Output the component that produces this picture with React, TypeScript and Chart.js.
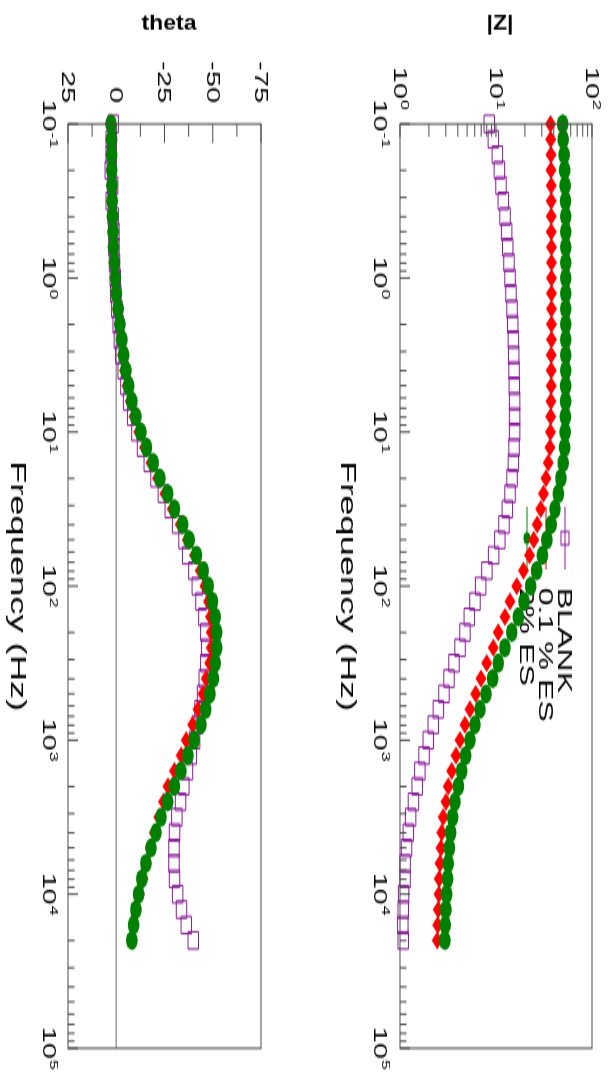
import React, { useEffect, useRef } from 'react';
import { Chart, registerables } from 'chart.js';

Chart.register(...registerables);

// Page is portrait; the figure is laid out landscape and turned a quarter turn clockwise.
const FONT = '"Liberation Sans", Arial, sans-serif';
const PAGE_W = 613;
const PAGE_H = 1078;
const CANVAS_W = 653;
const STRETCH = PAGE_H / CANVAS_W;
const TOP_H = 300;
const BOTTOM_H = PAGE_W - TOP_H;
const AXIS_COLOR = '#4a4a4a';

const frequencyHz = [
  0.1, 0.1259, 0.1585, 0.1995, 0.2512, 0.3162, 0.3981, 0.5012, 0.631, 0.7943,
  1, 1.259, 1.585, 1.995, 2.512, 3.162, 3.981, 5.012, 6.31, 7.943,
  10, 12.59, 15.85, 19.95, 25.12, 31.62, 39.81, 50.12, 63.1, 79.43,
  100, 125.9, 158.5, 199.5, 251.2, 316.2, 398.1, 501.2, 631, 794.3,
  1000, 1259, 1585, 1995, 2512, 3162, 3981, 5012, 6310, 7943,
  10000, 12590, 15850, 19950,
];

const seriesLabels = ['BLANK', '0.1 % ES', '2% ES'];
const seriesColors = ['#8b1a9b', '#ff0000', '#008000'];

const impedanceBlank = [
  8.51, 9.38, 10.33, 10.84, 11.27, 11.91, 12.42, 12.91, 13.24, 13.65,
  14.0, 14.32, 14.69, 14.93, 15.17, 15.28, 15.42, 15.52, 15.63, 15.63,
  15.63, 15.42, 15.17, 14.69, 14.0, 13.12, 12.11, 10.96, 9.44, 8.04,
  6.92, 6.04, 5.27, 4.75, 4.22, 3.65, 3.24, 2.87, 2.51, 2.22,
  1.97, 1.78, 1.61, 1.51, 1.38, 1.29, 1.22, 1.17, 1.13, 1.13,
  1.09, 1.08, 1.07, 1.08,
];
const impedanceEs01 = [
  37.0, 37.2, 37.4, 37.4, 37.6, 37.6, 37.6, 37.6, 37.8, 37.8,
  37.8, 37.8, 37.8, 37.8, 37.8, 37.6, 37.6, 37.6, 37.4, 37.2,
  37.0, 36.5, 35.1, 33.1, 31.3, 29.2, 26.9, 24.8, 22.4, 19.3,
  16.4, 14.0, 12.4, 10.57, 9.38, 8.0, 6.98, 6.14, 5.36, 4.75,
  4.22, 3.83, 3.45, 3.18, 3.01, 2.82, 2.72, 2.67, 2.61, 2.57,
  2.55, 2.51, 2.47, 2.45,
];
const impedanceEs2 = [
  49.5, 50.1, 51.3, 51.9, 52.5, 53.0, 53.3, 53.3, 53.3, 53.3,
  53.3, 53.3, 53.3, 53.3, 53.3, 53.3, 53.3, 53.1, 53.1, 52.8,
  52.5, 51.9, 50.1, 47.5, 44.6, 41.2, 37.6, 33.9, 30.4, 26.5,
  23.0, 19.6, 17.1, 14.6, 12.4, 10.57, 9.23, 7.87, 6.81, 6.04,
  5.36, 4.83, 4.39, 4.06, 3.74, 3.54, 3.37, 3.27, 3.18, 3.14,
  3.06, 3.01, 2.96, 2.94,
];

const phaseBlank = [
  1.6, 2.6, 2.6, 3.1, 1.9, 2.6, 1.6, 1.2, 1.2, 0.9,
  0.5, 0.3, -0.3, -1.0, -1.6, -2.4, -3.6, -5.0, -6.4, -8.5,
  -10.7, -13.6, -17.1, -20.6, -24.4, -28.0, -31.8, -35.1, -37.0, -40.2,
  -42.0, -43.9, -45.4, -46.4, -46.9, -46.4, -45.6, -44.7, -43.4, -42.0,
  -40.6, -38.9, -36.9, -35.0, -33.3, -31.4, -30.2, -29.9, -29.9, -30.2,
  -31.8, -33.8, -36.3, -39.9,
];
const phaseEs01 = [
  3.1, 2.8, 2.8, 2.7, 2.6, 2.5, 2.3, 2.0, 1.8, 1.3,
  0.8, 0.3, -0.6, -1.5, -2.4, -3.2, -4.3, -5.6, -7.2, -9.2,
  -11.7, -14.6, -18.0, -21.4, -25.3, -29.0, -33.2, -36.8, -40.5, -43.5,
  -46.0, -47.8, -48.8, -49.2, -49.2, -48.4, -46.6, -44.9, -42.3, -39.7,
  -36.3, -33.7, -30.2, -26.8, -24.5, -22.0, -19.7, -17.6, -15.6, -13.8,
  -12.0, -10.4, -9.0, -7.8,
];
const phaseEs2 = [
  2.7, 2.4, 2.4, 2.3, 2.2, 2.1, 1.9, 1.6, 1.4, 0.9,
  0.4, -0.1, -1.0, -1.9, -2.9, -3.8, -5.0, -6.4, -8.1, -10.2,
  -12.8, -15.7, -19.2, -22.6, -26.6, -30.2, -34.4, -37.8, -41.6, -45.1,
  -47.7, -49.9, -51.3, -52.0, -52.0, -51.3, -50.3, -48.5, -46.4, -43.9,
  -40.4, -37.1, -33.5, -30.1, -26.6, -23.2, -20.6, -18.0, -15.4, -13.3,
  -11.6, -10.2, -9.0, -8.1,
];

const frequencyTicks = [0.1, 1, 10, 100, 1000, 10000, 100000];
const frequencyExponents = ['-1', '0', '1', '2', '3', '4', '5'];
const impedanceTicks = [1, 10, 100];
const impedanceExponents = ['0', '1', '2'];
const phaseTicks = [25, 0, -25, -50, -75];
const phaseMinorTicks = [12.5, -12.5, -37.5, -62.5];

type Panel = {
  kind: 'impedance' | 'phase';
  height: number;
  plotTop: number;
  plotBottom: number;
  tickBaseline: number;
  titleBaseline: number;
  yTitle: string;
  yTitleY: number;
  labelRight: number;
};

const PLOT_LEFT = 75.1;
const PLOT_RIGHT = 635;
const TICK_FONT = 17.5;
const SUP_FONT = 11;

const impedancePanel: Panel = {
  kind: 'impedance',
  height: TOP_H,
  plotTop: 21,
  plotBottom: 213,
  tickBaseline: 238.5,
  titleBaseline: 272,
  yTitle: '|Z|',
  yTitleY: 113,
  labelRight: 66.7,
};

const phasePanel: Panel = {
  kind: 'phase',
  height: BOTTOM_H,
  plotTop: 52,
  plotBottom: 245,
  tickBaseline: 270,
  titleBaseline: 302,
  yTitle: 'theta',
  yTitleY: 144,
  labelRight: 62.4,
};

// "10" with a raised exponent; align 'center' or 'right' on x.
function drawPower(ctx: CanvasRenderingContext2D, exp: string, x: number, baseline: number, align: 'center' | 'right') {
  ctx.font = `${TICK_FONT}px ${FONT}`;
  const wBase = ctx.measureText('10').width;
  ctx.font = `${SUP_FONT}px ${FONT}`;
  const wExp = ctx.measureText(exp).width;
  const total = wBase + wExp + 0.5;
  const start = align === 'center' ? x - total / 2 : x - total;
  ctx.textAlign = 'left';
  ctx.textBaseline = 'alphabetic';
  ctx.font = `${TICK_FONT}px ${FONT}`;
  ctx.fillText('10', start, baseline);
  ctx.font = `${SUP_FONT}px ${FONT}`;
  ctx.fillText(exp, start + wBase + 0.5, baseline - 7.5);
}

function drawMarker(ctx: CanvasRenderingContext2D, series: number, x: number, y: number) {
  ctx.save();
  if (series === 0) {
    ctx.strokeStyle = seriesColors[0];
    ctx.lineWidth = 1;
    ctx.strokeRect(x - 4, y - 4, 8, 8);
  } else if (series === 1) {
    ctx.fillStyle = seriesColors[1];
    ctx.beginPath();
    ctx.moveTo(x - 4.5, y);
    ctx.lineTo(x, y - 4.5);
    ctx.lineTo(x + 4.5, y);
    ctx.lineTo(x, y + 4.5);
    ctx.closePath();
    ctx.fill();
  } else {
    ctx.fillStyle = seriesColors[2];
    ctx.beginPath();
    ctx.arc(x, y, 3.6, 0, Math.PI * 2);
    ctx.fill();
  }
  ctx.restore();
}

const legendRows = [48, 67, 86];

function decorPlugin(panel: Panel) {
  return {
    id: 'bodeDecor',
    beforeDatasetsDraw(chart: Chart) {
      const ctx = chart.ctx;
      const a = chart.chartArea;
      const ys = chart.scales.y;
      ctx.save();
      if (panel.kind === 'phase') {
        const y0 = ys.getPixelForValue(0);
        ctx.strokeStyle = '#9a9a9a';
        ctx.lineWidth = 1.5;
        ctx.beginPath();
        ctx.moveTo(a.left, y0);
        ctx.lineTo(a.right, y0);
        ctx.stroke();
      } else {
        legendRows.forEach((ry, i) => {
          ctx.strokeStyle = seriesColors[i];
          ctx.lineWidth = 1;
          ctx.beginPath();
          ctx.moveTo(307, ry);
          ctx.lineTo(345, ry);
          ctx.stroke();
          drawMarker(ctx, i, 326, ry);
          ctx.fillStyle = '#000';
          ctx.font = `19.5px ${FONT}`;
          ctx.textAlign = 'left';
          ctx.textBaseline = 'alphabetic';
          ctx.fillText(seriesLabels[i], 356, ry + 7);
        });
      }
      ctx.restore();
    },
    afterDraw(chart: Chart) {
      const ctx = chart.ctx;
      const a = chart.chartArea;
      const xs = chart.scales.x;
      const ys = chart.scales.y;
      ctx.save();
      ctx.strokeStyle = AXIS_COLOR;
      ctx.lineWidth = 1;
      ctx.strokeRect(a.left, a.top, a.right - a.left, a.bottom - a.top);

      const vTick = (x: number, len: number) => {
        ctx.beginPath();
        ctx.moveTo(x, a.bottom);
        ctx.lineTo(x, a.bottom - len);
        ctx.stroke();
      };
      const hTick = (y: number, len: number) => {
        ctx.beginPath();
        ctx.moveTo(a.left, y);
        ctx.lineTo(a.left + len, y);
        ctx.stroke();
      };

      // frequency axis: decades and the 2..9 minors between them
      frequencyTicks.forEach((v, i) => {
        vTick(xs.getPixelForValue(v), 10);
        if (i < frequencyTicks.length - 1) {
          for (let m = 2; m <= 9; m++) vTick(xs.getPixelForValue(v * m), 6.5);
        }
      });

      if (panel.kind === 'impedance') {
        impedanceTicks.forEach((v, i) => {
          hTick(ys.getPixelForValue(v), 8);
          if (i < impedanceTicks.length - 1) {
            for (let m = 2; m <= 9; m++) hTick(ys.getPixelForValue(v * m), 7.7);
          }
        });
      } else {
        phaseTicks.forEach((v) => hTick(ys.getPixelForValue(v), 11.5));
        phaseMinorTicks.forEach((v) => hTick(ys.getPixelForValue(v), 7.7));
      }

      ctx.fillStyle = '#000';
      frequencyTicks.forEach((v, i) => {
        drawPower(ctx, frequencyExponents[i], xs.getPixelForValue(v), panel.tickBaseline, 'center');
      });

      if (panel.kind === 'impedance') {
        impedanceTicks.forEach((v, i) => {
          drawPower(ctx, impedanceExponents[i], panel.labelRight, ys.getPixelForValue(v) + 6.2, 'right');
        });
      } else {
        ctx.font = `${TICK_FONT}px ${FONT}`;
        ctx.textAlign = 'right';
        ctx.textBaseline = 'alphabetic';
        phaseTicks.forEach((v) => {
          ctx.fillText(String(v), panel.labelRight, ys.getPixelForValue(v) + 6.2);
        });
      }

      ctx.font = `22px ${FONT}`;
      ctx.textAlign = 'center';
      ctx.textBaseline = 'alphabetic';
      ctx.fillText('Frequency (Hz)', (a.left + a.right) / 2, panel.titleBaseline);

      // vertical axis title, squeezed across its glyph height
      ctx.save();
      ctx.translate(14.5, panel.yTitleY);
      ctx.rotate(-Math.PI / 2);
      ctx.scale(1.0, 0.55);
      ctx.font = `bold 23px ${FONT}`;
      ctx.textAlign = 'center';
      ctx.textBaseline = 'middle';
      ctx.fillText(panel.yTitle, 0, 0);
      ctx.restore();

      ctx.restore();
    },
  };
}

const toPoints = (values: number[]) => values.map((y, i) => ({ x: frequencyHz[i], y }));

function makeDatasets(values: number[][]) {
  return [
    {
      label: seriesLabels[0],
      data: toPoints(values[0]),
      pointStyle: 'rect',
      pointRadius: 7.4,
      pointBorderWidth: 1,
      pointBorderColor: seriesColors[0],
      pointBackgroundColor: 'rgba(0,0,0,0)',
      borderColor: seriesColors[0],
      showLine: false,
      clip: false,
      order: 2,
    },
    {
      label: seriesLabels[1],
      data: toPoints(values[1]),
      pointStyle: 'rectRot',
      pointRadius: 5.5,
      pointBorderWidth: 0,
      pointBorderColor: seriesColors[1],
      pointBackgroundColor: seriesColors[1],
      borderColor: seriesColors[1],
      showLine: false,
      clip: false,
      order: 1,
    },
    {
      label: seriesLabels[2],
      data: toPoints(values[2]),
      pointStyle: 'circle',
      pointRadius: 5.8,
      pointBorderWidth: 0,
      pointBorderColor: seriesColors[2],
      pointBackgroundColor: seriesColors[2],
      borderColor: seriesColors[2],
      showLine: false,
      clip: false,
      order: 0,
    },
  ];
}

function makeConfig(panel: Panel, values: number[][]): any {
  const hidden = {
    ticks: { display: false },
    grid: { display: false, drawTicks: false },
    border: { display: false },
    title: { display: false },
  };
  const yScale =
    panel.kind === 'impedance'
      ? { type: 'logarithmic', min: 1, max: 100 }
      : { type: 'linear', min: -75, max: 25, reverse: true };
  return {
    type: 'scatter',
    data: { datasets: makeDatasets(values) },
    options: {
      animation: false,
      responsive: false,
      devicePixelRatio: 1,
      events: [],
      layout: {
        padding: { left: 0, right: CANVAS_W - PLOT_RIGHT, top: panel.plotTop, bottom: 0 },
      },
      plugins: {
        legend: { display: false },
        tooltip: { enabled: false },
        title: { display: false },
      },
      scales: {
        x: {
          type: 'logarithmic',
          min: 0.1,
          max: 100000,
          ...hidden,
          afterFit: (s: any) => {
            s.height = panel.height - panel.plotBottom;
          },
        },
        y: {
          ...yScale,
          ...hidden,
          afterFit: (s: any) => {
            s.width = PLOT_LEFT;
          },
        },
      },
    },
    plugins: [decorPlugin(panel)],
  };
}

export default function App() {
  const topRef = useRef<HTMLCanvasElement>(null);
  const bottomRef = useRef<HTMLCanvasElement>(null);

  useEffect(() => {
    document.body.style.overflow = 'hidden';
    const top = new Chart(
      topRef.current as HTMLCanvasElement,
      makeConfig(impedancePanel, [impedanceBlank, impedanceEs01, impedanceEs2]),
    );
    const bottom = new Chart(
      bottomRef.current as HTMLCanvasElement,
      makeConfig(phasePanel, [phaseBlank, phaseEs01, phaseEs2]),
    );
    return () => {
      top.destroy();
      bottom.destroy();
    };
  }, []);

  return (
    <div
      style={{
        position: 'absolute',
        left: 0,
        top: 0,
        width: CANVAS_W,
        height: PAGE_W,
        background: '#fff',
        transformOrigin: '0 0',
        transform: `translate(${PAGE_W}px, 0px) rotate(90deg) scaleX(${STRETCH})`,
      }}
    >
      <canvas
        ref={topRef}
        width={CANVAS_W}
        height={TOP_H}
        style={{ position: 'absolute', left: 0, top: 0, display: 'block' }}
      />
      <canvas
        ref={bottomRef}
        width={CANVAS_W}
        height={BOTTOM_H}
        style={{ position: 'absolute', left: 0, top: TOP_H, display: 'block' }}
      />
    </div>
  );
}
